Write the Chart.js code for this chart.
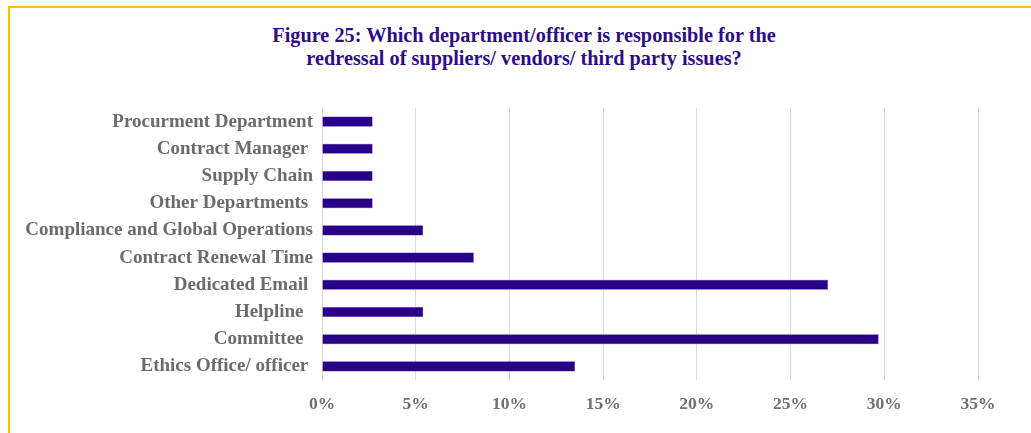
<!DOCTYPE html>
<html>
<head>
<meta charset="utf-8">
<script src="https://cdn.jsdelivr.net/npm/chart.js@4"></script>
<style>
  body { margin: 0; background: #fff; }
  #wrap { position: relative; width: 1031px; height: 433px; }
  #frame {
    position: absolute; left: 8px; top: 6px; right: 0; bottom: 0;
    border-top: 2px solid #ffc000; border-left: 2px solid #ffc000;
  }
  #title {
    position: absolute; left: 224px; width: 600px; top: 24px;
    text-align: center; color: #2e0c8a;
    font: bold 20.3px/23px 'Liberation Serif', 'DejaVu Serif', serif;
  }
  canvas { position: absolute; left: 0; top: 0; }
</style>
</head>
<body>
<div id="wrap">
  <div id="frame"></div>
  <div id="title"></div>
  <canvas id="deptChart" width="1031" height="433"></canvas>
</div>
<script>
let departments = [
  'Procurment Department',
  'Contract Manager ',
  'Supply Chain',
  'Other Departments ',
  'Compliance and Global Operations',
  'Contract Renewal Time',
  'Dedicated Email ',
  'Helpline  ',
  'Committee  ',
  'Ethics Office/ officer '
];
let shares = [2.7, 2.7, 2.7, 2.7, 5.4, 8.1, 27.0, 5.4, 29.7, 13.5];
let titleLines = [
  'Figure 25: Which department/officer is responsible for the',
  'redressal of suppliers/ vendors/ third party issues?'
];

// title sits over the whole frame, not just the plot
document.getElementById('title').innerHTML = titleLines.join('<br>');

let serif = "'Liberation Serif', 'DejaVu Serif', serif";
let ctx = document.getElementById('deptChart').getContext('2d');

let deptBar = new Chart(ctx, {
  type: 'bar',
  data: {
    labels: departments,
    datasets: [{
      data: shares,
      backgroundColor: '#2a0088',
      borderColor: '#4a2aa0',
      borderWidth: 0.5,
      barPercentage: 0.37,
      categoryPercentage: 1
    }]
  },
  options: {
    indexAxis: 'y',
    responsive: false,
    devicePixelRatio: 1,
    animation: false,
    layout: {
      padding: { top: 108, left: 0, right: 53, bottom: 0 }
    },
    plugins: {
      legend: { display: false },
      tooltip: { enabled: false },
      title: { display: false }
    },
    scales: {
      x: {
        min: 0,
        max: 35,
        ticks: {
          stepSize: 5,
          padding: 14,
          color: '#707070',
          font: { family: serif, size: 17.5, weight: 'bold' },
          callback: function(v) { return v + '%'; }
        },
        grid: {
          color: '#d9d9d9',
          drawTicks: false
        },
        border: { display: false },
        afterFit: function(scale) { scale.height = 53; }
      },
      y: {
        ticks: {
          padding: 1,
          color: '#6b6b6b',
          font: { family: serif, size: 19, weight: 'bold' }
        },
        grid: { display: false },
        border: { display: true, color: '#d9d9d9' },
        afterFit: function(scale) { scale.width = 322; }
      }
    }
  }
});
</script>
</body>
</html>
